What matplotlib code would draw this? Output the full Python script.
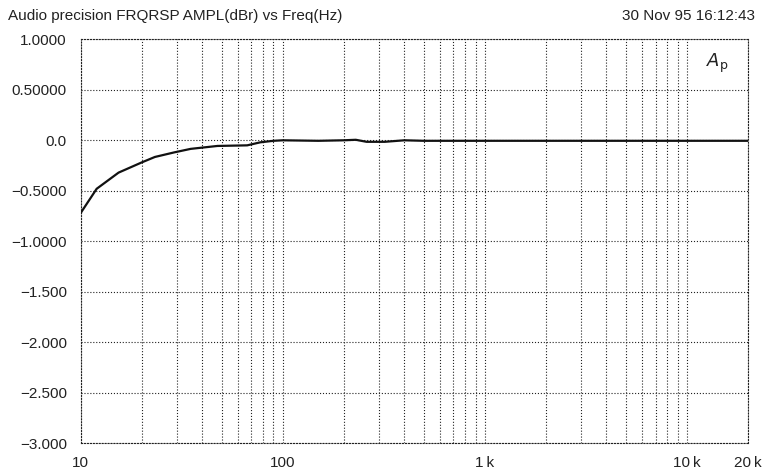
import numpy as np
import matplotlib.pyplot as plt
from matplotlib.ticker import FixedLocator, NullFormatter

plt.rcParams['font.family'] = ['Liberation Sans', 'DejaVu Sans']

# frequency response
freq_hz = [10, 12, 15.4, 20, 23.3, 29, 35, 47.5, 66.7, 77.5, 90, 100, 150,
           200, 230, 260, 320, 400, 500, 1000, 5000, 10000, 20000]
ampl_dbr = [-0.72, -0.48, -0.32, -0.22, -0.165, -0.12, -0.085, -0.056, -0.05,
            -0.02, -0.005, 0.0, -0.005, 0.0, 0.005, -0.015, -0.015, 0.0,
            -0.005, -0.005, -0.005, -0.005, -0.005]

y_ticks = [1.0, 0.5, 0.0, -0.5, -1.0, -1.5, -2.0, -2.5, -3.0]
y_labels = ['1.0000', '0.50000', '0.0', '\u22120.5000', '\u22121.0000',
            '\u22121.500', '\u22122.000', '\u22122.500', '\u22123.000']
x_ticks = [10, 100, 1000, 10000, 20000]
x_labels = ['10', '100', '1\u2009k', '10\u2009k', '20\u2009k']
x_minor = [m * d for d in (10, 100, 1000) for m in range(2, 10)]

fig = plt.figure(figsize=(7.64, 4.70), dpi=100)
ax = fig.add_axes([0.1056, 0.0568, 0.8730, 0.8596])

ax.plot(freq_hz, ampl_dbr, color='#111111', lw=1.6, zorder=3)

ax.set_xscale('log')
ax.set_xlim(10, 20000)
ax.set_ylim(-3.0, 1.0)
ax.xaxis.set_major_locator(FixedLocator(x_ticks))
ax.xaxis.set_minor_locator(FixedLocator(x_minor))
ax.xaxis.set_minor_formatter(NullFormatter())
ax.set_xticklabels(x_labels)
ax.set_yticks(y_ticks)
ax.set_yticklabels(y_labels)
ax.tick_params(which='both', length=0, labelsize=11, colors='#222222')
ax.tick_params(axis='x', pad=9)
ax.tick_params(axis='y', pad=10)

ax.grid(True, which='both', linestyle=':', color='#222222', lw=0.8)
for s in ax.spines.values():
    s.set_linestyle(':')
    s.set_linewidth(0.8)
    s.set_color('#222222')

fig.text(0.011, 0.967, 'Audio precision FRQRSP AMPL(dBr) vs Freq(Hz)',
         fontsize=11, color='#222222', va='center', ha='left')
fig.text(0.988, 0.967, '30 Nov 95 16:12:43',
         fontsize=11, color='#222222', va='center', ha='right')
ax.text(0.955, 0.94, r'$\mathit{A}_\mathrm{p}$', transform=ax.transAxes,
        fontsize=13, ha='center', va='center', color='#222222')

fig.savefig('out.png', dpi=100)
